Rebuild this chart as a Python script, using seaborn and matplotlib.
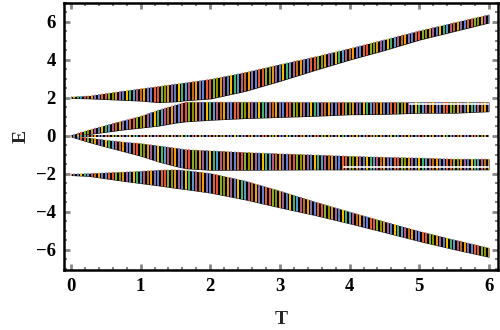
import numpy as np
import matplotlib
matplotlib.use("Agg")
import matplotlib.pyplot as plt
from matplotlib.ticker import MultipleLocator
import seaborn as sns

# band edges at a few T values
T_knots = [0, 0.25, 0.5, 0.75, 1.0, 1.25, 1.5, 1.65, 2.0, 2.5, 3.0, 3.5, 4.0, 4.5, 5.0, 5.5, 6.0]

top_hi = [2.08, 2.12, 2.25, 2.38, 2.5, 2.62, 2.75, 2.82, 3.0, 3.36, 3.78, 4.18, 4.62, 5.08, 5.55, 5.98, 6.4]
top_lo = [1.98, 1.96, 1.92, 1.88, 1.84, 1.76, 1.8, 1.86, 1.95, 2.35, 2.88, 3.45, 4.0, 4.5, 5.05, 5.5, 5.95]

mid_hi = [0.05, 0.33, 0.58, 0.82, 1.06, 1.38, 1.65, 1.8, 1.8, 1.8, 1.8, 1.79, 1.79, 1.79, 1.79, 1.79, 1.79]
mid_lo = [0.0, 0.08, 0.2, 0.32, 0.42, 0.52, 0.68, 0.75, 0.83, 0.92, 0.98, 1.04, 1.12, 1.14, 1.2, 1.2, 1.28]

zero_hi = [0.05, 0.05, 0.05, 0.05, 0.05, 0.05, 0.05, 0.05, 0.05, 0.05, 0.05, 0.05, 0.05, 0.05, 0.05, 0.05, 0.05]
zero_lo = [-0.05, -0.05, -0.05, -0.05, -0.05, -0.05, -0.05, -0.05, -0.05, -0.05, -0.05, -0.05, -0.05, -0.05, -0.05, -0.05, -0.05]

lmid_hi = [0.0, -0.08, -0.2, -0.3, -0.38, -0.5, -0.62, -0.7, -0.76, -0.85, -0.92, -0.98, -1.05, -1.1, -1.14, -1.2, -1.2]
lmid_lo = [-0.05, -0.33, -0.58, -0.82, -1.06, -1.36, -1.6, -1.72, -1.8, -1.8, -1.79, -1.78, -1.78, -1.78, -1.78, -1.78, -1.78]

ltop_hi = [-1.98, -1.96, -1.92, -1.88, -1.84, -1.78, -1.76, -1.8, -1.95, -2.35, -2.88, -3.45, -3.98, -4.5, -5.0, -5.45, -5.88]
ltop_lo = [-2.08, -2.12, -2.25, -2.38, -2.5, -2.62, -2.75, -2.82, -3.0, -3.36, -3.78, -4.18, -4.62, -5.08, -5.55, -5.98, -6.38]

# thin white seams inside the middle bands
seam_start = [4.85, 3.9]
seam_end = [6.0, 6.0]
seam_E = [1.665, -1.62]

# T values where the spectrum was sampled
T_samples = np.arange(0, 6.001, 0.05)

palette = ["#5E81B5", "#E19C24", "#8FB032", "#EB6235", "#8778B3", "#C56E1A",
           "#5D9EC7", "#FFBF00", "#A5609D", "#929600", "#E95536", "#6685D9",
           "#F89F13", "#BC5B80", "#47B66D"]

bands = [(top_lo, top_hi), (mid_lo, mid_hi), (zero_lo, zero_hi),
         (lmid_lo, lmid_hi), (ltop_lo, ltop_hi)]

sns.set_style("ticks")
plt.rcParams["font.family"] = ["Liberation Serif", "DejaVu Serif"]
plt.rcParams["font.weight"] = "bold"

fig = plt.figure(figsize=(5, 3.3), dpi=100)
ax = fig.add_axes([0.128, 0.182, 0.868, 0.809])

for i, (lo, hi) in enumerate(bands):
    poly = ax.fill_between(T_knots, lo, hi, color="black", lw=0)
    cols = [palette[(j * 7 + i * 4) % len(palette)] for j in range(len(T_samples))]
    lines = ax.vlines(T_samples, -7.5, 7.5, colors=cols, lw=1.4)
    lines.set_clip_path(poly.get_paths()[0], ax.transData)

for s, e, y in zip(seam_start, seam_end, seam_E):
    ax.hlines(y, s, e, colors="white", lw=1.2)

ax.set_xlim(-0.1, 6.13)
ax.set_ylim(-7.05, 7.0)
ax.xaxis.set_major_locator(MultipleLocator(1))
ax.xaxis.set_minor_locator(MultipleLocator(0.2))
ax.yaxis.set_major_locator(MultipleLocator(2))
ax.yaxis.set_minor_locator(MultipleLocator(0.5))

ax.tick_params(which="both", direction="in", top=True, right=True,
               color="#888888", labelsize=13.5, labelcolor="black")
ax.tick_params(which="major", length=4, width=2, pad=6)
ax.tick_params(which="minor", length=2.5, width=1.5)
for sp in ax.spines.values():
    sp.set_linewidth(1.8)
    sp.set_color("black")

ax.set_xlabel("T", fontsize=14, fontweight="bold", labelpad=11)
ax.set_ylabel("E", fontsize=14, fontweight="bold", labelpad=4)

fig.savefig("out.png", dpi=100)
